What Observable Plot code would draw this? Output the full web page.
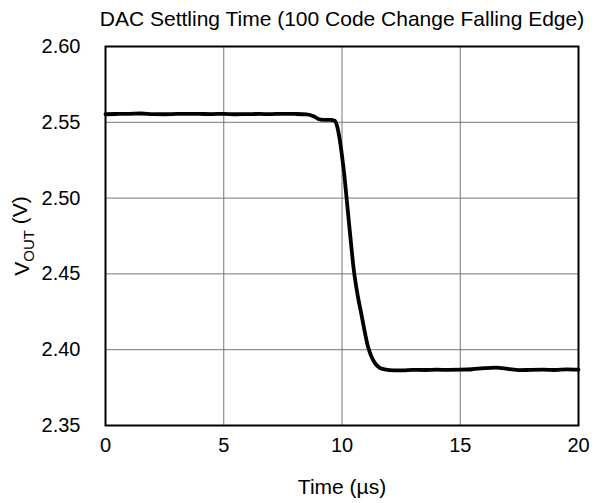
<!DOCTYPE html>
<html>
<head>
<meta charset="utf-8">
<script src="https://cdn.jsdelivr.net/npm/d3@7"></script>
<script src="https://cdn.jsdelivr.net/npm/@observablehq/plot@0.6"></script>
<style>
  body { margin: 0; background: #fff; }
  svg { font-family: "Liberation Sans", Arial, sans-serif; }
</style>
</head>
<body>
<div id="chart"></div>
<script>
const title = "DAC Settling Time (100 Code Change Falling Edge)";
const xLabel = "Time (µs)";
const xTicks = [0, 5, 10, 15, 20];
const yTicks = [2.35, 2.40, 2.45, 2.50, 2.55, 2.60];

const timeUs = [0, 0.5, 1, 1.5, 2, 2.5, 3, 3.5, 4, 4.5, 5, 5.5, 6, 6.5, 7, 7.5, 8, 8.5, 8.8, 9.0, 9.2, 9.5, 9.7, 9.8, 9.9, 10.0, 10.1, 10.2, 10.35, 10.5, 10.65, 10.8, 11.1, 11.4, 11.6, 11.8, 12.2, 12.6, 13, 13.5, 14, 14.5, 15, 15.5, 16, 16.5, 17, 17.5, 18, 18.5, 19, 19.5, 20];
const vout = [2.5553, 2.5555, 2.5556, 2.5558, 2.5554, 2.5553, 2.5555, 2.5556, 2.5555, 2.5554, 2.5556, 2.5553, 2.5554, 2.5555, 2.5554, 2.5556, 2.5555, 2.5552, 2.5540, 2.5522, 2.5516, 2.5516, 2.5510, 2.5470, 2.5390, 2.5280, 2.5150, 2.4990, 2.4750, 2.4525, 2.4370, 2.4250, 2.4020, 2.3910, 2.3880, 2.3870, 2.3863, 2.3864, 2.3867, 2.3866, 2.3868, 2.3867, 2.3868, 2.3871, 2.3878, 2.3882, 2.3874, 2.3865, 2.3867, 2.3868, 2.3866, 2.3870, 2.3868];

const data = timeUs.map((t, i) => ({t, v: vout[i]}));
const tickFont = 20;
const labelFont = 21;

const chart = Plot.plot({
  width: 600,
  height: 503,
  marginTop: 46,
  marginLeft: 105,
  marginRight: 22,
  marginBottom: 78,
  style: {fontFamily: '"Liberation Sans", Arial, sans-serif', fontSize: tickFont + "px", color: "black", background: "white"},
  x: {domain: [0, 20], ticks: xTicks},
  y: {domain: [2.35, 2.60], ticks: yTicks},
  marks: [
    Plot.gridX(xTicks, {stroke: "#777", strokeOpacity: 1, strokeWidth: 1}),
    Plot.gridY(yTicks, {stroke: "#777", strokeOpacity: 1, strokeWidth: 1}),
    Plot.axisX(xTicks, {tickSize: 0, tickPadding: 12, label: null, fontSize: tickFont, fill: "black"}),
    Plot.axisY(yTicks, {tickSize: 0, tickPadding: 25, label: null, tickFormat: d3.format(".2f"), fontSize: tickFont, fill: "black"}),
    Plot.line(data, {x: "t", y: "v", stroke: "black", strokeWidth: 3.8, curve: "monotone-x"}),
    Plot.frame({stroke: "black", strokeWidth: 2}),
    Plot.text([title], {frameAnchor: "top", dy: -27, lineAnchor: "middle", textAnchor: "middle", fontSize: labelFont, fill: "black"}),
    Plot.text([xLabel], {frameAnchor: "bottom", dy: 62, lineAnchor: "middle", textAnchor: "middle", fontSize: labelFont, fill: "black"}),
    Plot.text(["VOUT (V)"], {frameAnchor: "left", dx: -83, rotate: -90, lineAnchor: "middle", textAnchor: "middle", fontSize: labelFont, fill: "black", className: "ylabel"})
  ]
});

document.getElementById("chart").appendChild(chart);

// Subscript for V_OUT
d3.select(chart).selectAll("g.ylabel text").each(function() {
  const t = d3.select(this);
  t.text(null);
  t.append("tspan").text("V");
  t.append("tspan").attr("font-size", Math.round(labelFont * 0.7) + "px").attr("dy", "0.3em").text("OUT");
  t.append("tspan").attr("dy", "-0.3em").text(" (V)");
});
</script>
</body>
</html>
